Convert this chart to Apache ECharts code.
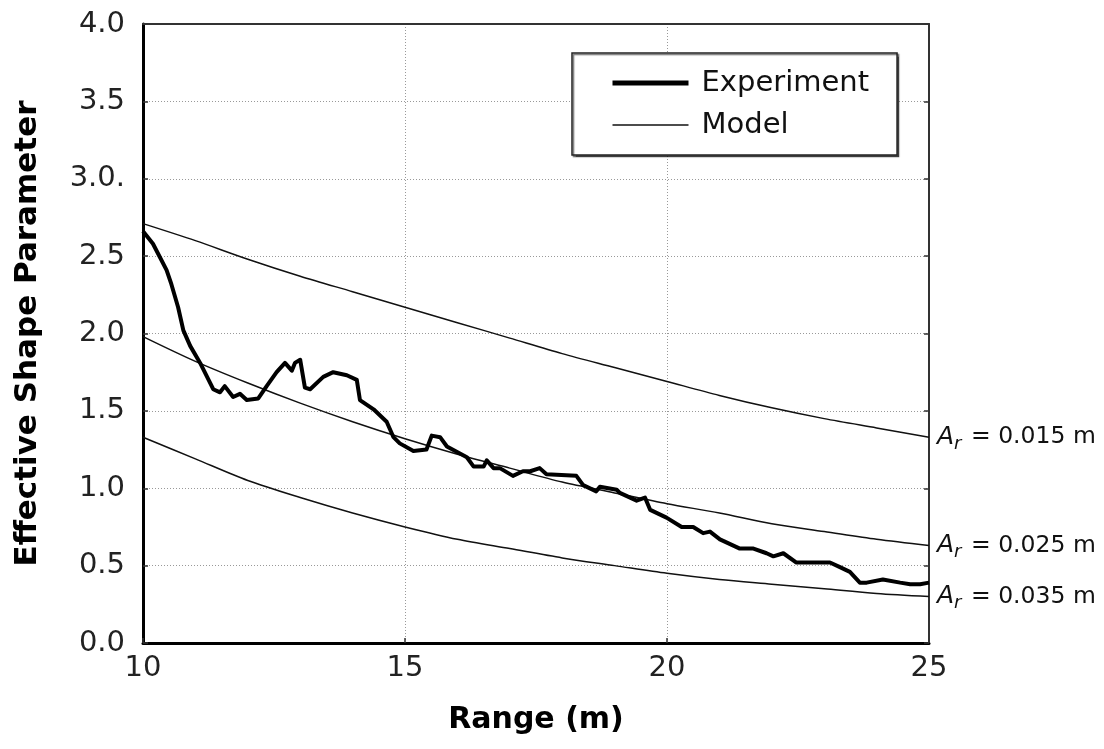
<!DOCTYPE html>
<html>
<head>
<meta charset="utf-8">
<script src="https://cdn.jsdelivr.net/npm/echarts@6/dist/echarts.min.js"></script>
<style>html,body{margin:0;padding:0;background:#fff;}#c{width:1104px;height:749px;}</style>
</head>
<body>
<div id="c"></div>
<script>
// ---- data ----
var expX = [10.0,10.19,10.45,10.54,10.67,10.77,10.90,11.09,11.34,11.47,11.56,11.72,11.85,11.98,12.20,12.36,12.55,12.71,12.84,12.90,13.0,13.09,13.19,13.44,13.63,13.89,14.08,14.14,14.40,14.65,14.78,14.90,15.16,15.41,15.51,15.67,15.80,16.18,16.31,16.50,16.56,16.69,16.81,17.06,17.25,17.39,17.57,17.70,18.27,18.40,18.65,18.72,19.04,19.10,19.42,19.58,19.68,19.99,20.28,20.50,20.69,20.82,21.01,21.39,21.65,21.90,22.03,22.22,22.47,22.73,23.11,23.30,23.49,23.68,23.81,24.12,24.45,24.64,24.83,25.0];
var expY = [2.66,2.58,2.41,2.32,2.17,2.02,1.92,1.81,1.64,1.62,1.66,1.59,1.61,1.57,1.58,1.66,1.75,1.81,1.76,1.81,1.83,1.65,1.64,1.72,1.75,1.73,1.70,1.57,1.51,1.43,1.33,1.29,1.24,1.25,1.34,1.33,1.27,1.20,1.14,1.14,1.18,1.13,1.13,1.08,1.11,1.11,1.13,1.09,1.08,1.02,0.98,1.01,0.99,0.97,0.92,0.94,0.86,0.81,0.75,0.75,0.71,0.72,0.67,0.61,0.61,0.58,0.56,0.58,0.52,0.52,0.52,0.49,0.46,0.39,0.39,0.41,0.39,0.38,0.38,0.39];
var modelX = [10,11,12,13,14,15,16,17,18,19,20,21,22,23,24,25];
var model015 = [2.71,2.60,2.48,2.37,2.27,2.17,2.07,1.97,1.87,1.78,1.69,1.60,1.52,1.45,1.39,1.33];
var model025 = [1.98,1.82,1.68,1.55,1.43,1.32,1.22,1.13,1.04,0.97,0.90,0.84,0.77,0.72,0.67,0.63];
var model035 = [1.33,1.19,1.05,0.94,0.84,0.75,0.67,0.61,0.55,0.50,0.45,0.41,0.38,0.35,0.32,0.30];
var modelNames = ['0.015', '0.025', '0.035'];
var yTickLabels = {'0': '0.0', '0.5': '0.5', '1': '1.0', '1.5': '1.5', '2': '2.0', '2.5': '2.5', '3': '3.0.', '3.5': '3.5', '4': '4.0'};
var xTickLabels = {'10': '10', '15': '15', '20': '20', '25': '25'};

function pairs(xs, ys) { return xs.map(function (x, i) { return [x, ys[i]]; }); }

var FONT = 'DejaVu Sans, Verdana, sans-serif';
var modelSeries = [model015, model025, model035].map(function (arr, i) {
  return {
    name: 'Model', type: 'line', data: pairs(modelX, arr), smooth: 0.3,
    symbol: 'none', xAxisIndex: 0, yAxisIndex: 0,
    itemStyle: { color: '#111' },
    lineStyle: { color: '#111', width: 1.5 },
    endLabel: {
      show: true, distance: 8, color: '#111',
      formatter: '{a|A}{s|r}{t| = ' + modelNames[i] + ' m}',
      rich: {
        a: { fontFamily: FONT, fontSize: 25, fontStyle: 'italic', color: '#111' },
        s: { fontFamily: FONT, fontSize: 18, fontStyle: 'italic', color: '#111', verticalAlign: 'bottom', padding: [14, 0, 0, 0] },
        t: { fontFamily: FONT, fontSize: 23.5, color: '#111', padding: [0, 0, 0, 2] }
      }
    },
    z: 3
  };
});

var chart = echarts.init(document.getElementById('c'), null, { renderer: 'canvas' });
chart.setOption({
  backgroundColor: '#fff',
  animation: false,
  grid: { left: 143, right: 175, top: 24, bottom: 106, containLabel: false },
  legend: {
    left: 572, top: 53, orient: 'vertical',
    padding: [15, 28, 15, 38],
    itemWidth: 76, itemHeight: 20, itemGap: 12,
    backgroundColor: '#fff', borderColor: '#222', borderWidth: 1.5, borderRadius: 0,
    shadowColor: 'rgba(0,0,0,0.55)', shadowOffsetX: 1.5, shadowOffsetY: 1.5, shadowBlur: 1,
    itemStyle: { opacity: 0 },
    textStyle: { fontFamily: FONT, fontSize: 29, lineHeight: 30, color: '#111', padding: [0, 0, 0, 8] },
    data: [
      { name: 'Experiment', itemStyle: { opacity: 0 }, lineStyle: { color: '#000', width: 5 } },
      { name: 'Model', itemStyle: { opacity: 0 }, lineStyle: { color: '#111', width: 1.5 } }
    ]
  },
  xAxis: [{
    type: 'value', min: 10, max: 25, interval: 5,
    name: 'Range (m)', nameLocation: 'middle', nameGap: 62,
    nameTextStyle: { fontFamily: FONT, fontSize: 30, fontWeight: 'bold', color: '#000' },
    axisLine: { show: true, onZero: false, lineStyle: { color: '#000', width: 3 } },
    axisTick: { show: true, inside: true, length: 5, lineStyle: { color: '#333', width: 1.5 } },
    axisLabel: { fontFamily: FONT, fontSize: 29, color: '#222', margin: 11,
      formatter: function (v) { return xTickLabels[String(v)] || ''; } },
    splitLine: { show: true, lineStyle: { color: '#999', width: 1, type: [1, 2] } }
  }, {
    type: 'value', min: 10, max: 25, interval: 5, position: 'top',
    axisLine: { show: true, onZero: false, lineStyle: { color: '#333', width: 2 } },
    axisTick: { show: false }, axisLabel: { show: false }, splitLine: { show: false }
  }],
  yAxis: [{
    type: 'value', min: 0, max: 4, interval: 0.5,
    name: 'Effective Shape Parameter', nameLocation: 'middle', nameGap: 100, nameRotate: 90,
    nameTextStyle: { fontFamily: FONT, fontSize: 31, fontWeight: 'bold', color: '#000' },
    axisLine: { show: true, onZero: false, lineStyle: { color: '#000', width: 3 } },
    axisTick: { show: true, inside: true, length: 5, lineStyle: { color: '#333', width: 1.5 } },
    axisLabel: { fontFamily: FONT, fontSize: 29, color: '#222', margin: 18,
      formatter: function (v) { return yTickLabels[String(v)] || ''; } },
    splitLine: { show: true, lineStyle: { color: '#999', width: 1, type: [1, 2] } }
  }, {
    type: 'value', min: 0, max: 4, interval: 0.5, position: 'right',
    axisLine: { show: true, onZero: false, lineStyle: { color: '#333', width: 2 } },
    axisTick: { show: true, inside: true, length: 5, lineStyle: { color: '#333', width: 1.5 } },
    axisLabel: { show: false }, splitLine: { show: false }
  }],
  series: [{
    name: 'Experiment', type: 'line', data: pairs(expX, expY),
    symbol: 'none', xAxisIndex: 0, yAxisIndex: 0,
    itemStyle: { color: '#000' },
    lineStyle: { color: '#000', width: 4, join: 'round' }, z: 4
  }].concat(modelSeries)
});
</script>
</body>
</html>
